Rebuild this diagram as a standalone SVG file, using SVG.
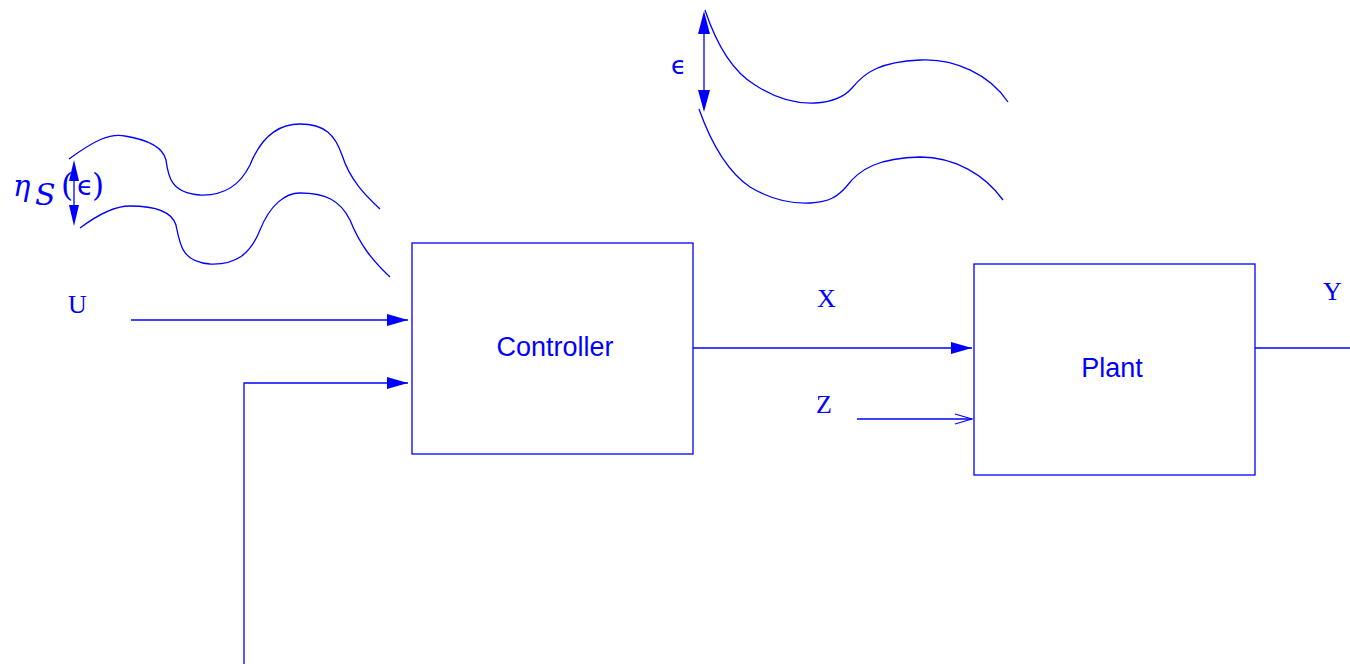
<svg xmlns="http://www.w3.org/2000/svg" width="1350" height="664" viewBox="0 0 1350 664">
<style>
.ln{fill:none;stroke:#0000ff;stroke-width:1.3}
.box{fill:#ffffff;stroke:#0000ff;stroke-width:1.3}
.sans{font-family:"Liberation Sans",Arial,sans-serif;font-size:27px;fill:#0000ff}
.serif{font-family:"Liberation Serif","Times New Roman",serif;font-size:26px;fill:#0000ff}
.math{font-family:"DejaVu Serif","Liberation Serif",serif;fill:#0000ff}
.eps{font-family:"DejaVu Sans","Liberation Sans",sans-serif;fill:#0000ff}
.head{fill:#0000ff;stroke:none}
</style>
<defs>
<marker id="fa" markerWidth="22" markerHeight="12" refX="21" refY="6" orient="auto" markerUnits="userSpaceOnUse">
<path d="M0,0 L21,6 L0,12 z" class="head"/>
</marker>
<marker id="oa" markerWidth="20" markerHeight="12" refX="18" refY="6" orient="auto" markerUnits="userSpaceOnUse">
<path d="M1,1 L18,6 L1,11" fill="none" stroke="#0000ff" stroke-width="1.3"/>
</marker>
</defs>
<rect width="1350" height="664" fill="#ffffff"/>
<g id="controller">
<rect x="412" y="243" width="281" height="211" class="box"/>
<text x="555" y="356" text-anchor="middle" class="sans">Controller</text>
</g>
<g id="plant">
<rect x="974" y="264" width="281" height="211" class="box"/>
<text x="1112" y="377" text-anchor="middle" class="sans">Plant</text>
</g>
<g id="labels">
<text x="68" y="313" class="serif">U</text>
<text x="817" y="307" class="serif">X</text>
<text x="816" y="413" class="serif">Z</text>
<text x="1323" y="300" class="serif">Y</text>
</g>
<g id="connectors">
<line x1="131" y1="320" x2="408" y2="320" class="ln" marker-end="url(#fa)"/>
<polyline points="244,664 244,383 408,383" class="ln" marker-end="url(#fa)"/>
<line x1="693" y1="348" x2="972" y2="348" class="ln" marker-end="url(#fa)"/>
<line x1="857" y1="419" x2="972" y2="419" class="ln" marker-end="url(#oa)"/>
<line x1="1255" y1="348" x2="1350" y2="348" class="ln"/>
</g>
<g id="tolerance-left">
<path class="ln" d="M69,159 C95,140 110,133 125,136 C150,140 163,148 166,160 C168,175 170,193 200,195 C225,196 240,185 250,165 C260,140 275,124 300,124 C325,124 335,135 342,155 C350,180 365,195 380,209"/>
<path class="ln" d="M80,228 C100,213 115,206 130,206 C155,206 172,212 176,225 C180,245 182,262 210,264 C235,265 250,255 260,230 C270,205 285,193 300,193 C325,193 340,200 350,220 C360,245 372,260 390,277"/>
<line x1="74" y1="180" x2="74" y2="205" class="ln"/>
<path class="head" d="M74,160 L79,181 L69,181 z"/>
<path class="head" d="M74,226 L79,205 L69,205 z"/>
<text x="13" y="196" class="math" font-size="29" font-style="italic">η</text>
<text x="35" y="205" class="math" font-size="30" font-style="italic">S</text>
<text x="61" y="196" class="math" font-size="31">(</text>
<text x="77" y="195" class="eps" font-size="27">ϵ</text>
<text x="92" y="196" class="math" font-size="31">)</text>
</g>
<g id="tolerance-top">
<path class="ln" d="M705,10 C715,40 730,70 755,85 C775,98 795,104 815,103 C835,102 845,96 852,88 C865,72 880,62 920,60 C955,58 990,75 1008,102"/>
<path class="ln" d="M699,109 C710,140 725,170 750,187 C770,199 790,204 810,203 C830,202 838,196 846,187 C860,168 880,158 920,157 C955,157 985,175 1003,200"/>
<line x1="704" y1="33" x2="704" y2="92" class="ln"/>
<path class="head" d="M704,11 L710,34 L698,34 z"/>
<path class="head" d="M704,112 L710,90 L698,90 z"/>
<text x="671" y="74" class="eps" font-size="25">ϵ</text>
</g>
</svg>
